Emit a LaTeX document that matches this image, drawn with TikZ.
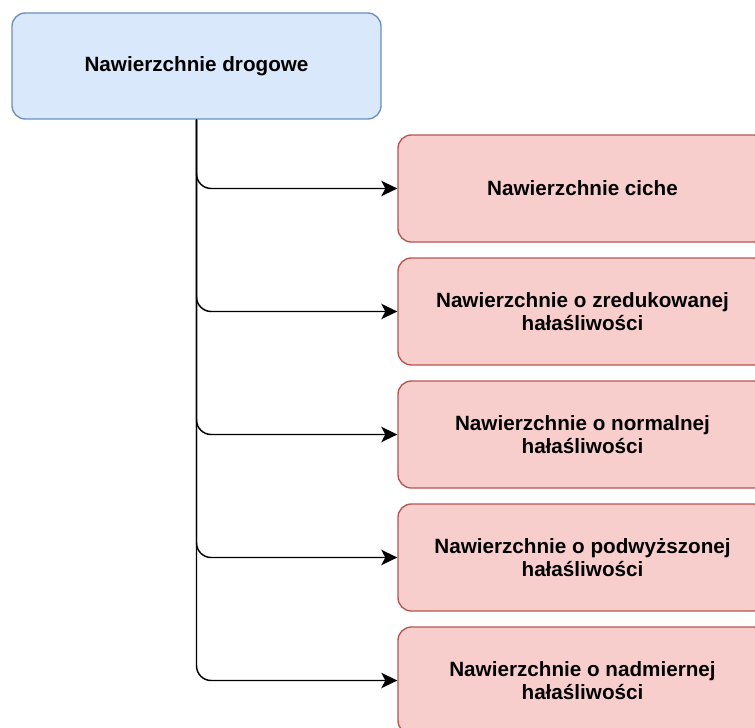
\documentclass[tikz,border=0pt]{standalone}
\usepackage{fontspec}
\setmainfont{Liberation Sans}
\usepackage{xcolor}
\usetikzlibrary{arrows.meta}

\definecolor{rootfill}{HTML}{DAE8FC}
\definecolor{rootline}{HTML}{6C8EBF}
\definecolor{classfill}{HTML}{F8CECC}
\definecolor{classline}{HTML}{B85450}

\tikzset{
  box/.style={rounded corners=10pt, line width=1pt, minimum width=276.75pt,
    align=center, font=\bfseries\fontsize{15.5}{17.6}\selectfont},
  rootbox/.style={box, fill=rootfill, draw=rootline, minimum height=79.5pt},
  classbox/.style={box, fill=classfill, draw=classline, minimum height=80.25pt},
  link/.style={line width=1.1pt, rounded corners=11pt,
    -{Stealth[length=12pt, width=11.5pt, inset=3pt]}}
}

\begin{document}
\begin{tikzpicture}[x=0.75pt, y=-0.75pt]
\useasboundingbox (0,0) rectangle (755,727);
\clip (0,0) rectangle (755,727);

%% root
\node[rootbox] (root) at (196.5,66) {Nawierzchnie drogowe};

%% classes
\node[classbox] (quiet)   at (582.5,188.5) {Nawierzchnie ciche};
\node[classbox] (reduced) at (582.5,311.5) {Nawierzchnie o zredukowanej\\hałaśliwości};
\node[classbox] (normal)  at (582.5,434.5) {Nawierzchnie o normalnej\\hałaśliwości};
\node[classbox] (raised)  at (582.5,557.5) {Nawierzchnie o podwyższonej\\hałaśliwości};
\node[classbox] (excess)  at (582.5,680.5) {Nawierzchnie o nadmiernej\\hałaśliwości};

%% links
\draw[link] (root.south) |- (quiet.west);
\draw[link] (root.south) |- (reduced.west);
\draw[link] (root.south) |- (normal.west);
\draw[link] (root.south) |- (raised.west);
\draw[link] (root.south) |- (excess.west);

\end{tikzpicture}
\end{document}
